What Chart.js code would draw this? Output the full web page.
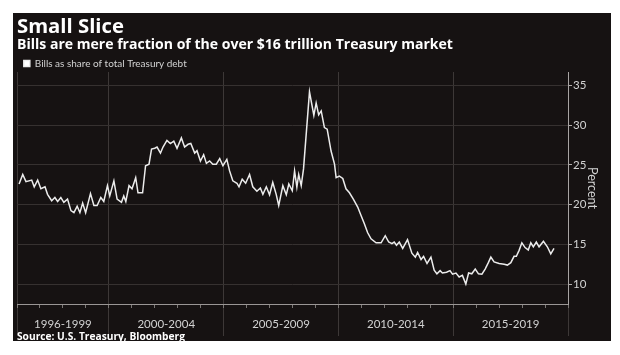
<!DOCTYPE html>
<html>
<head>
<meta charset="utf-8">
<script src="https://cdn.jsdelivr.net/npm/chart.js@4.4.1/dist/chart.umd.min.js"></script>
<style>
  html, body { margin: 0; padding: 0; background: #ffffff; }
  body { width: 620px; height: 355px; position: relative; overflow: hidden; }
  #panel { position: absolute; left: 13px; top: 13px; width: 598px; height: 328px; background: #161212; }
  #panel canvas { position: absolute; left: 0; top: 0; }
  #source { position: absolute; left: 4px; top: 318px; font-family: "Open Sans", sans-serif; font-weight: bold; color: #ffffff; white-space: nowrap; line-height: 1; }
</style>
</head>
<body>
<div id="panel">
  <canvas id="c" width="598" height="328"></canvas>
  <div id="source">Source: U.S. Treasury, Bloomberg</div>
</div>
<script>
// ---- data ----
const years = [
  1996.09,1996.25,1996.39,1996.64,1996.75,1996.90,1997.04,1997.22,1997.33,1997.51,
  1997.65,1997.77,1997.91,1998.04,1998.20,1998.35,1998.48,1998.62,1998.74,1998.86,
  1998.99,1999.20,1999.35,1999.49,1999.65,1999.78,1999.94,2000.04,2000.22,2000.36,
  2000.55,2000.65,2000.74,2000.88,2001.01,2001.17,2001.27,2001.47,2001.60,2001.75,
  2001.86,2002.00,2002.10,2002.25,2002.36,2002.53,2002.68,2002.83,2002.97,2003.16,
  2003.30,2003.45,2003.57,2003.74,2003.84,2003.99,2004.13,2004.25,2004.39,2004.53,
  2004.68,2004.83,2004.97,2005.14,2005.26,2005.40,2005.58,2005.67,2005.81,2005.96,
  2006.13,2006.27,2006.45,2006.60,2006.71,2006.86,2007.00,2007.14,2007.29,2007.40,
  2007.58,2007.73,2007.84,2007.99,2008.09,2008.19,2008.27,2008.38,2008.48,2008.74,
  2008.93,2009.03,2009.14,2009.25,2009.39,2009.51,2009.68,2009.83,2009.90,2010.04,
  2010.19,2010.33,2010.48,2010.65,2010.84,2010.99,2011.13,2011.27,2011.42,2011.64,
  2011.86,2012.04,2012.19,2012.33,2012.43,2012.53,2012.65,2012.80,2013.01,2013.20,
  2013.35,2013.45,2013.60,2013.71,2013.86,2014.03,2014.17,2014.29,2014.43,2014.53,
  2014.71,2014.86,2014.97,2015.12,2015.26,2015.40,2015.55,2015.67,2015.81,2015.96,
  2016.10,2016.25,2016.39,2016.53,2016.64,2016.78,2017.00,2017.22,2017.36,2017.51,
  2017.65,2017.75,2017.87,2017.99,2018.13,2018.27,2018.38,2018.49,2018.62,2018.74,
  2018.93,2019.10,2019.25,2019.39
];
const shareValues = [
  22.6,23.8,22.9,23.1,22.25,23.1,22.0,22.25,21.3,20.5,
  20.9,20.4,20.9,20.3,20.7,19.25,19.0,19.8,19.0,20.2,
  19.0,21.4,19.9,19.9,20.9,20.4,22.4,21.1,23.0,20.7,
  20.3,21.1,20.4,22.4,22.0,23.4,21.5,21.5,24.9,25.1,
  27.0,27.1,27.25,26.5,27.25,28.1,27.7,28.0,27.1,28.4,
  27.25,27.6,27.7,26.5,26.8,25.5,26.3,25.2,25.5,25.1,
  25.1,25.8,24.9,25.7,24.25,23.0,22.7,22.25,23.2,22.7,
  23.8,22.25,21.7,22.1,21.3,22.25,21.25,22.8,21.3,19.9,
  22.4,21.25,22.6,21.75,24.25,22.2,23.8,22.4,24.5,34.2,
  31.25,32.8,31.3,31.8,29.7,29.5,26.75,25.1,23.4,23.6,
  23.3,22.0,21.5,20.7,19.7,18.6,17.6,16.5,15.7,15.2,
  15.2,16.1,15.3,15.1,15.3,14.9,15.3,14.5,15.6,13.9,
  13.4,14.0,13.1,13.5,12.6,13.4,11.75,11.3,11.7,11.4,
  11.5,11.7,11.25,11.4,10.9,11.1,10.0,11.4,11.3,11.9,
  11.3,11.25,11.9,12.7,13.4,12.8,12.6,12.5,12.4,12.7,
  13.5,13.5,14.25,15.2,14.6,14.3,15.2,14.7,15.3,14.7,
  15.4,14.7,13.8,14.5
];
const periodLabels = ['1996-1999', '2000-2004', '2005-2009', '2010-2014', '2015-2019'];
const periodBounds = [1996, 2000, 2005, 2010, 2015, 2020];
const yearTicks = [1996,1997,1998,1999,2000,2001,2002,2003,2004,2005,2006,2007,2008,2009,2010,2011,2012,2013,2014,2015,2016,2017,2018,2019,2020];
const yTicks = [10, 15, 20, 25, 30, 35];

const titleText = 'Small Slice';
const subtitleText = 'Bills are mere fraction of the over $16 trillion Treasury market';
const legendText = 'Bills as share of total Treasury debt';
const sourceText = 'Source: U.S. Treasury, Bloomberg';

// ---- styling helpers ----
const periodMids = periodLabels.map((_, i) => (periodBounds[i] + periodBounds[i + 1]) / 2);
const gridCol = '#363130';
const sepCol = '#3d3837';
const textCol = '#d2d2d2';
const HEAD_FONT = 'Open Sans';
const BODY_FONT = 'Lato';

const mctx = document.createElement('canvas').getContext('2d');
function fitSize(text, weight, family, target) {
  mctx.font = weight + ' 100px "' + family + '"';
  return Math.round(10000 * target / mctx.measureText(text).width) / 100;
}
const S1 = fitSize(titleText, 'bold', HEAD_FONT, 107);
const S2 = fitSize(subtitleText, 'bold', HEAD_FONT, 436);
const S3 = fitSize(legendText, 'normal', BODY_FONT, 152);
const S4 = fitSize(sourceText, 'bold', HEAD_FONT, 168);
document.getElementById('source').style.fontSize = S4 + 'px';

// vertical placement of the heading blocks (canvas px)
const titleMid = 14.5, subMid = 31, legMid = 50.5, plotTop = 59;
const titlePadTop = Math.max(0, titleMid - S1 / 2);
const titleBottom = titlePadTop + S1;
const subPadTop = Math.max(0, subMid - S2 / 2 - titleBottom);
const subBottom = titleBottom + subPadTop + S2;
const legPad = Math.max(0, legMid - S3 / 2 - subBottom);

new Chart(document.getElementById('c'), {
  type: 'line',
  data: {
    datasets: [{
      label: legendText,
      data: years.map((x, i) => ({ x: x, y: shareValues[i] })),
      borderColor: '#ececec',
      backgroundColor: '#ffffff',
      borderWidth: 1.5,
      pointRadius: 0,
      tension: 0,
      xAxisID: 'x',
      yAxisID: 'y'
    }]
  },
  options: {
    responsive: false,
    animation: false,
    devicePixelRatio: 1,
    layout: { padding: { left: 4, right: 0, top: 0, bottom: 0 } },
    plugins: {
      title: {
        display: true, text: titleText, align: 'start', color: '#ffffff',
        font: { family: HEAD_FONT, weight: 'bold', size: S1, lineHeight: 1 },
        padding: { top: titlePadTop, bottom: 0 }
      },
      subtitle: {
        display: true, text: subtitleText, align: 'start', color: '#ffffff',
        font: { family: HEAD_FONT, weight: 'bold', size: S2, lineHeight: 1 },
        padding: { top: subPadTop, bottom: 0 }
      },
      legend: {
        display: true, position: 'top', align: 'start',
        maxHeight: plotTop - subBottom,
        labels: {
          color: textCol, boxWidth: 6, boxHeight: 6, padding: legPad,
          font: { family: BODY_FONT, size: S3 }
        }
      },
      tooltip: { enabled: false }
    },
    scales: {
      x: {
        type: 'linear', position: 'bottom', min: 1996, max: 2020,
        afterBuildTicks: (s) => { s.ticks = yearTicks.map(v => ({ value: v })); },
        afterFit: (s) => { s.height = 4; },
        grid: {
          drawOnChartArea: true, drawTicks: true, tickLength: 4,
          color: (ctx) => (ctx.tick && periodBounds.includes(ctx.tick.value)) ? sepCol : 'rgba(0,0,0,0)',
          tickColor: '#7a7674'
        },
        border: { display: true, color: '#9a9695', width: 1 },
        ticks: { display: false }
      },
      x2: {
        type: 'linear', position: 'bottom', min: 1996, max: 2020,
        afterBuildTicks: (s) => { s.ticks = periodBounds.concat(periodMids).sort((a, b) => a - b).map(v => ({ value: v })); },
        afterFit: (s) => { s.height = 33; },
        grid: {
          drawOnChartArea: false, drawTicks: true, tickLength: 28,
          tickColor: (ctx) => (ctx.tick && periodBounds.includes(ctx.tick.value)) ? sepCol : 'rgba(0,0,0,0)'
        },
        border: { display: false },
        ticks: {
          autoSkip: false, maxRotation: 0, minRotation: 0, padding: -18.5,
          color: textCol, font: { family: BODY_FONT, size: 11.5, lineHeight: 1.2 },
          callback: (v) => { const i = periodMids.indexOf(v); return i >= 0 ? periodLabels[i] : ''; }
        }
      },
      y: {
        type: 'linear', position: 'right', min: 7.5, max: 36.7,
        afterBuildTicks: (s) => { s.ticks = yTicks.map(v => ({ value: v })); },
        afterFit: (s) => { s.width = 43; },
        grid: { color: gridCol, tickColor: '#b0acab', tickLength: 4 },
        border: { display: true, color: '#a8a4a3', width: 1 },
        ticks: { color: textCol, font: { family: BODY_FONT, size: 11.5 }, padding: 1 },
        title: {
          display: true, text: 'Percent', color: textCol,
          font: { family: BODY_FONT, size: 12.5, lineHeight: 1.2 }, padding: { top: 11.5, bottom: 0 }
        }
      }
    }
  }
});
</script>
</body>
</html>
